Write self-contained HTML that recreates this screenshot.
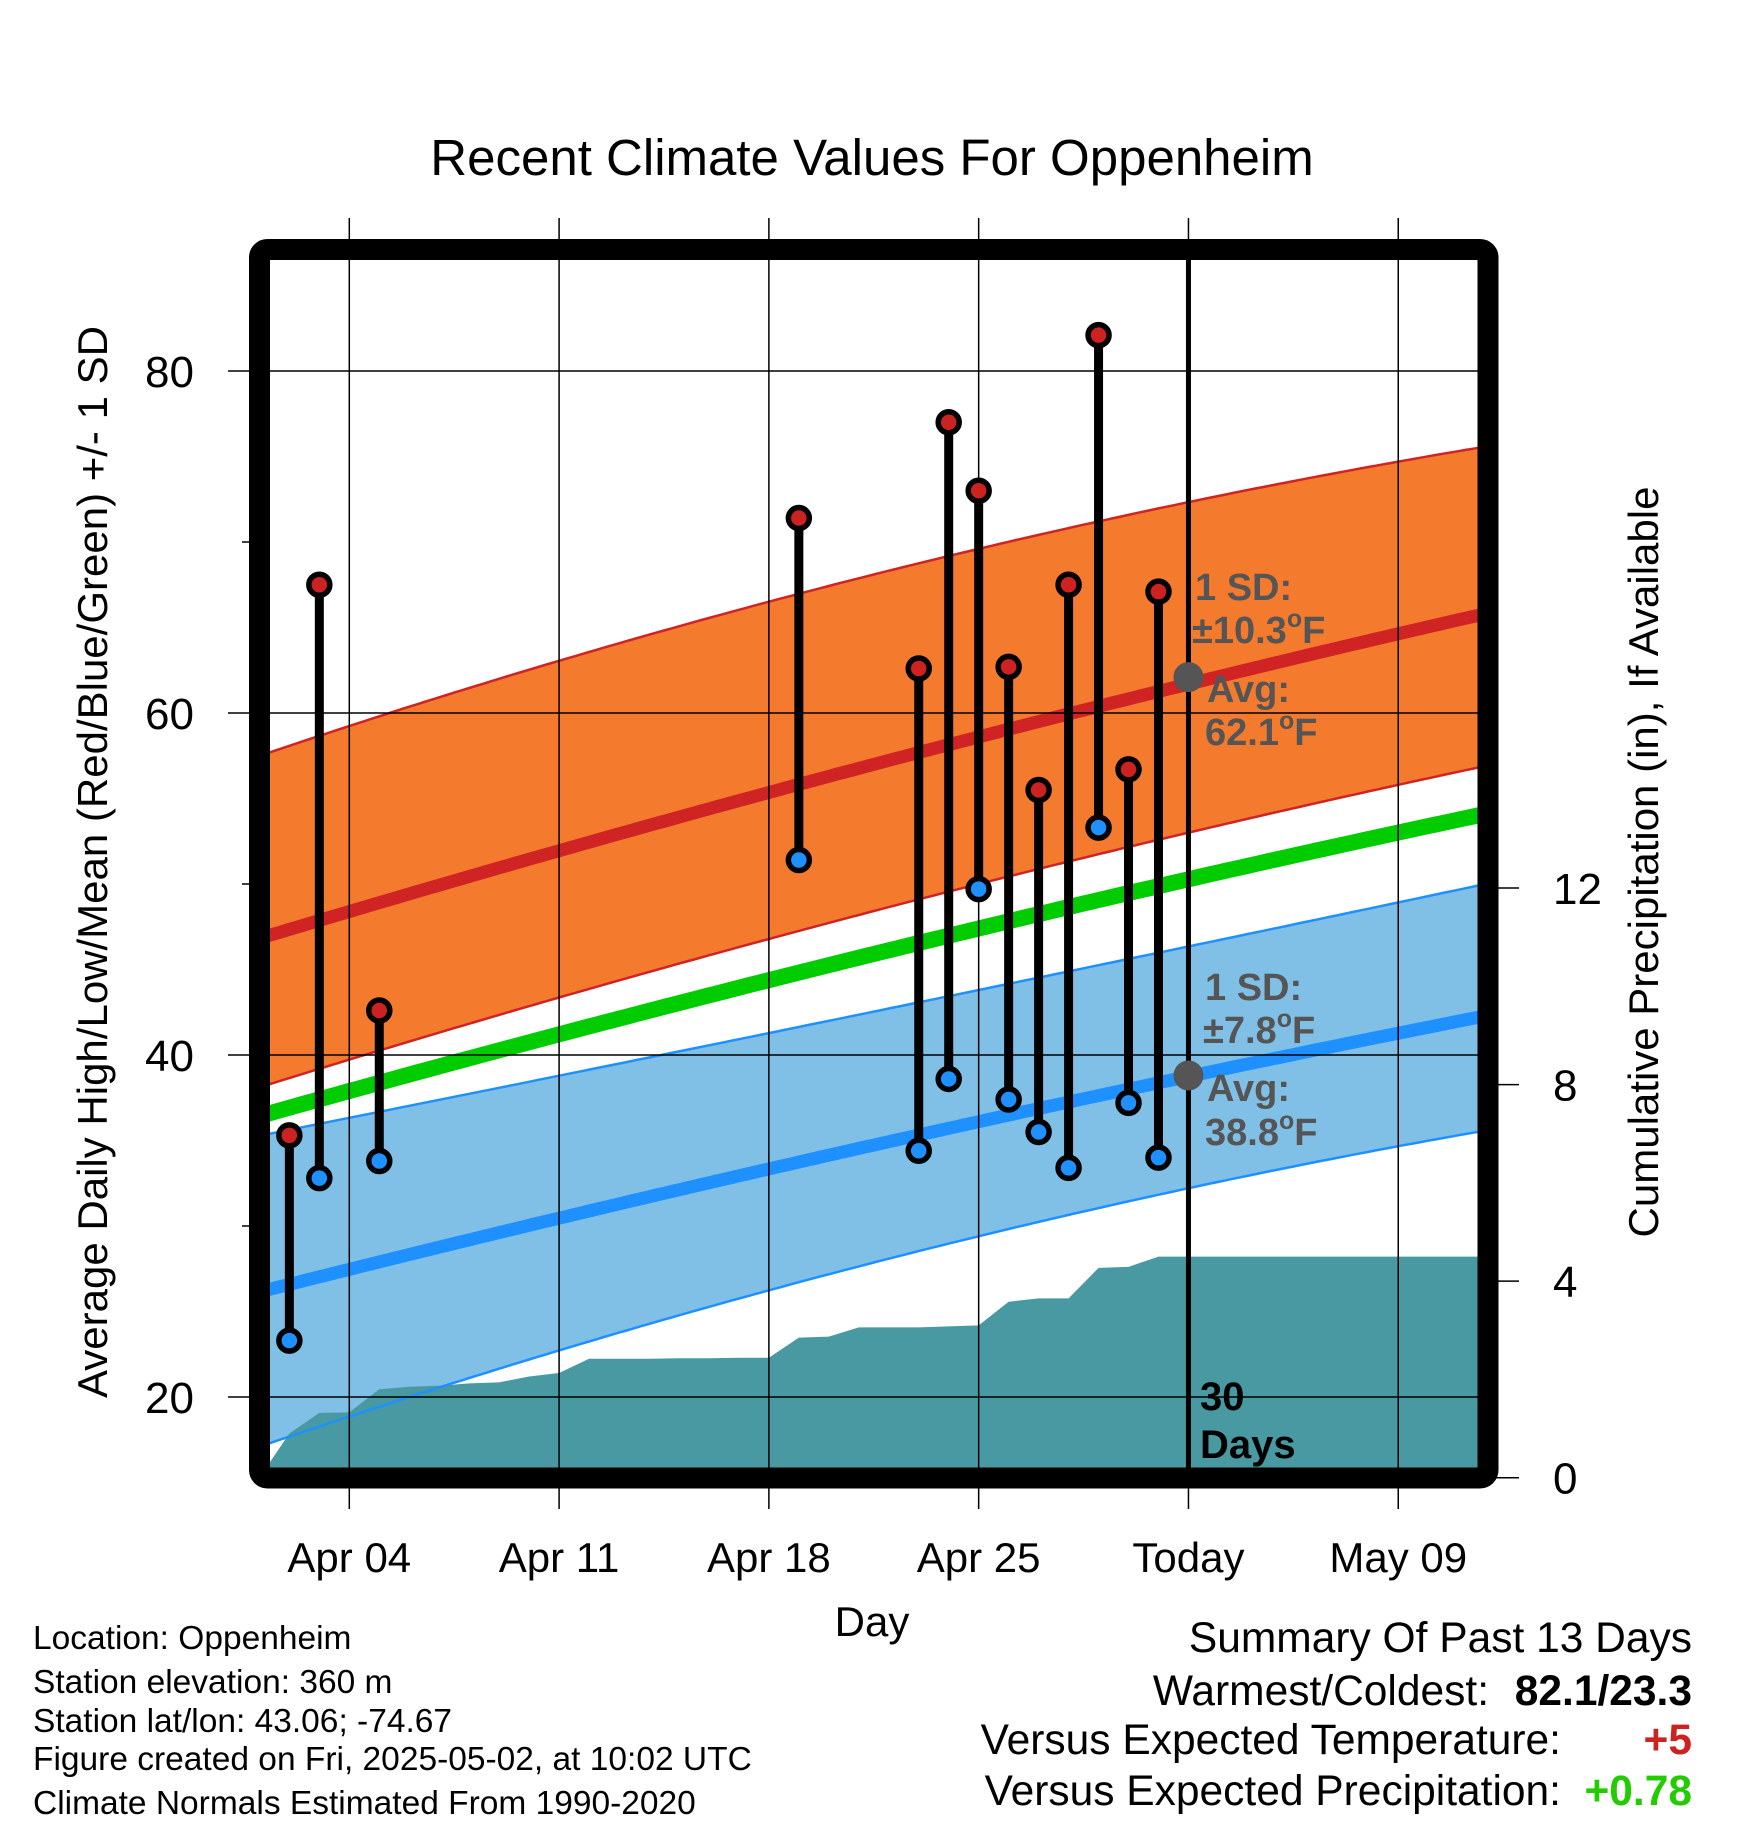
<!DOCTYPE html>
<html><head><meta charset="utf-8"><style>
html,body{margin:0;padding:0;background:#fff;}
svg{display:block;font-family:"Liberation Sans",Arial,sans-serif;}
</style></head><body>
<svg id="chart" width="1748" height="1828" viewBox="0 0 1748 1828" xmlns="http://www.w3.org/2000/svg">
<rect width="1748" height="1828" fill="#fff"/>
<text x="872" y="175" font-size="51" text-anchor="middle">Recent Climate Values For Oppenheim</text>
<defs><clipPath id="plotclip"><rect x="270" y="260" width="1208" height="1208"/></clipPath></defs>
<g id="bg" clip-path="url(#plotclip)"></g>
<g id="grid"></g>
<g id="marks" clip-path="url(#plotclip)"></g>
<rect x="259.5" y="249.5" width="1228.5" height="1228.5" rx="8" fill="none" stroke="#000" stroke-width="21"/>
<g id="annot" font-weight="bold" font-size="38" fill="#555">
<text x="1195" y="600">1 SD:</text>
<text x="1192" y="643">±10.3<tspan dy="-16" font-size="25">o</tspan><tspan dy="16">F</tspan></text>
<text x="1207" y="702">Avg:</text>
<text x="1205" y="745">62.1<tspan dy="-16" font-size="25">o</tspan><tspan dy="16">F</tspan></text>
<text x="1205" y="1000">1 SD:</text>
<text x="1203" y="1043">±7.8<tspan dy="-16" font-size="25">o</tspan><tspan dy="16">F</tspan></text>
<text x="1207" y="1101">Avg:</text>
<text x="1205" y="1145">38.8<tspan dy="-16" font-size="25">o</tspan><tspan dy="16">F</tspan></text>
<text x="1200" y="1410" fill="#000" font-size="40">30</text>
<text x="1200" y="1458" fill="#000" font-size="40">Days</text>
</g>
<text transform="translate(107,862) rotate(-90)" font-size="42" text-anchor="middle">Average Daily High/Low/Mean (Red/Blue/Green) +/- 1 SD</text>
<text transform="translate(1658,862) rotate(-90)" font-size="42" text-anchor="middle">Cumulative Precipitation (in), If Available</text>
<text x="872" y="1636" font-size="42" text-anchor="middle">Day</text>
<g font-size="33.5">
<text x="33" y="1649">Location: Oppenheim</text>
<text x="33" y="1693">Station elevation: 360 m</text>
<text x="33" y="1732">Station lat/lon: 43.06; -74.67</text>
<text x="33" y="1770">Figure created on Fri, 2025-05-02, at 10:02 UTC</text>
<text x="33" y="1814">Climate Normals Estimated From 1990-2020</text>
</g>
<g font-size="42.5">
<text x="1692" y="1652" text-anchor="end">Summary Of Past 13 Days</text>
<text x="1489" y="1705" text-anchor="end">Warmest/Coldest:</text>
<text x="1692" y="1705" text-anchor="end" font-weight="bold">82.1/23.3</text>
<text x="1561" y="1754" text-anchor="end">Versus Expected Temperature:</text>
<text x="1692" y="1754" text-anchor="end" font-weight="bold" fill="#cc2222">+5</text>
<text x="1561" y="1805" text-anchor="end">Versus Expected Precipitation:</text>
<text x="1692" y="1805" text-anchor="end" font-weight="bold" fill="#22cc00">+0.78</text>
</g>
</svg>
<script>
// ---- data ----
const obsDays = [1, 2, 4, 18, 22, 23, 24, 25, 26, 27, 28, 29, 30]; // days after Apr 01
const obsHigh = [35.3, 67.5, 42.6, 71.4, 62.6, 77.0, 73.0, 62.7, 55.5, 67.5, 82.1, 56.7, 67.1];
const obsLow  = [23.3, 32.8, 33.8, 51.4, 34.4, 38.6, 49.7, 37.4, 35.5, 33.4, 53.3, 37.2, 34.0];
const normDays  = [0.35, 24, 40.64];
const normHigh  = [47.0, 58.6, 65.7];
const highUpper = [57.7, 69.6, 75.5];
const highLower = [38.3, 50.0, 56.8];
const normMean  = [36.6, 47.4, 54.0];
const normLow   = [26.3, 36.1, 42.2];
const lowUpper  = [35.4, 43.8, 49.9];
const lowLower  = [17.3, 29.4, 35.5];
const precipDays = [0,1,2,3,4,5,6,7,8,9,10,11,12,13,14,15,16,17,18,19,20,21,22,23,24,25,26,27,28,29,30,31,42];
const precipCum  = [0,0.9,1.32,1.33,1.8,1.85,1.87,1.92,1.94,2.06,2.13,2.42,2.42,2.42,2.43,2.43,2.44,2.44,2.85,2.87,3.06,3.06,3.06,3.08,3.1,3.58,3.65,3.65,4.27,4.29,4.5,4.5,4.5];
const xTickDays = [3, 10, 17, 24, 31, 38];
const xTickLabels = ["Apr 04", "Apr 11", "Apr 18", "Apr 25", "Today", "May 09"];
const yTicks = [20, 40, 60, 80];
const yMinor = [30, 50, 70];
const y2Ticks = [0, 4, 8, 12];
const todayDay = 31;
const todayHighAvg = 62.1, todayLowAvg = 38.8;

// ---- scales ----
const X = d => 349.3 + (d - 3) * 29.97;
const Y = t => 371 + (80 - t) * 17.1;
const Y2 = p => 1477.7 - p * 49.14;
const NS = "http://www.w3.org/2000/svg";
function mk(tag, parent, attrs){ const e=document.createElementNS(NS,tag); for(const k in attrs) e.setAttribute(k,attrs[k]); parent.appendChild(e); return e; }
const bg = document.getElementById('bg'), grid = document.getElementById('grid'), marks = document.getElementById('marks');
function smooth(xs, ys){
  return d=>{ let s=0; for(let i=0;i<xs.length;i++){ let l=1; for(let j=0;j<xs.length;j++) if(j!=i) l*=(d-xs[j])/(xs[i]-xs[j]); s+=l*ys[i]; } return s; };
}
const fHi=smooth(normDays,normHigh), fHu=smooth(normDays,highUpper), fHl=smooth(normDays,highLower);
const fMe=smooth(normDays,normMean), fLo=smooth(normDays,normLow), fLu=smooth(normDays,lowUpper), fLl=smooth(normDays,lowLower);
const samp=[]; for(let d=-1; d<=44; d+=0.25) samp.push(d);
const line = f => samp.map(d=>X(d).toFixed(1)+','+Y(f(d)).toFixed(1)).join(' ');
const band = (fu,fl) => samp.map(d=>X(d).toFixed(1)+','+Y(fu(d)).toFixed(1)).concat(samp.slice().reverse().map(d=>X(d).toFixed(1)+','+Y(fl(d)).toFixed(1))).join(' ');
let e = mk('polygon', bg, {points:band(fHu,fHl), fill:'#f47a2e'});
 
e = mk('polygon', bg, {points:band(fLu,fLl), fill:'#80c0e6'});
 
let p = precipDays.map((d,i)=>X(d)+','+Y2(precipCum[i])).join(' ');
p = X(0)+','+Y2(-1)+' '+p+' '+X(precipDays[precipDays.length-1])+','+Y2(-1);
e = mk('polygon', bg, {points:p, fill:'#4899a2'});
 
[[fHu,'#d02424',2.5,'high-upper-sd'],[fHl,'#d02424',2.5,'high-lower-sd'],
 [fLu,'#1e90ff',2.5,'low-upper-sd'],[fLl,'#1e90ff',2.5,'low-lower-sd'],
 [fHi,'#d02424',13,'normal-high-line'],[fLo,'#1e90ff',13,'normal-low-line'],
 [fMe,'#00cc00',16,'normal-mean-line']].forEach(a=>{
  const l = mk('polyline', bg, {points:line(a[0]), fill:'none', stroke:a[1], 'stroke-width':a[2]});
  
  
});
xTickDays.forEach((d,i)=>{
  const g = mk('line', grid, {x1:X(d),x2:X(d),y1:218,y2:1509,stroke:'#000','stroke-width':1.5});
   
  const t = mk('text', grid, {x:X(d), y:1572, 'font-size':42, 'text-anchor':'middle'});
  t.textContent = xTickLabels[i];
   
});
yTicks.forEach(v=>{
  const g = mk('line', grid, {x1:228,x2:1478,y1:Y(v),y2:Y(v),stroke:'#000','stroke-width':1.5});
   
  const t = mk('text', grid, {x:194, y:Y(v)+16, 'font-size':44, 'text-anchor':'end'});
  t.textContent = v;
   
});
yMinor.forEach(v=>{
  const g = mk('line', grid, {x1:242,x2:260,y1:Y(v),y2:Y(v),stroke:'#000','stroke-width':1.5});
   
});
y2Ticks.forEach(v=>{
  const g = mk('line', grid, {x1:1488,x2:1519,y1:Y2(v),y2:Y2(v),stroke:'#000','stroke-width':1.5});
   
  const t = mk('text', grid, {x:1553, y:Y2(v)+16, 'font-size':44});
  t.textContent = v;
   
});
e = mk('line', marks, {x1:X(todayDay),x2:X(todayDay),y1:255,y2:1470,stroke:'#000','stroke-width':5});
 
obsDays.forEach((d,i)=>{
  const l = mk('line', marks, {x1:X(d),x2:X(d),y1:Y(obsHigh[i]),y2:Y(obsLow[i]),stroke:'#000','stroke-width':9});
   
});
obsDays.forEach((d,i)=>{
  const h = mk('circle', marks, {cx:X(d),cy:Y(obsHigh[i]),r:10.5,fill:'#cc2222',stroke:'#000','stroke-width':5.5});
   
  const l = mk('circle', marks, {cx:X(d),cy:Y(obsLow[i]),r:10.5,fill:'#1e90ff',stroke:'#000','stroke-width':5.5});
   
});
e = mk('circle', marks, {cx:X(todayDay),cy:Y(todayHighAvg),r:15,fill:'#555'});
 
e = mk('circle', marks, {cx:X(todayDay),cy:Y(todayLowAvg),r:15,fill:'#555'});
 
</script>
</body></html>
